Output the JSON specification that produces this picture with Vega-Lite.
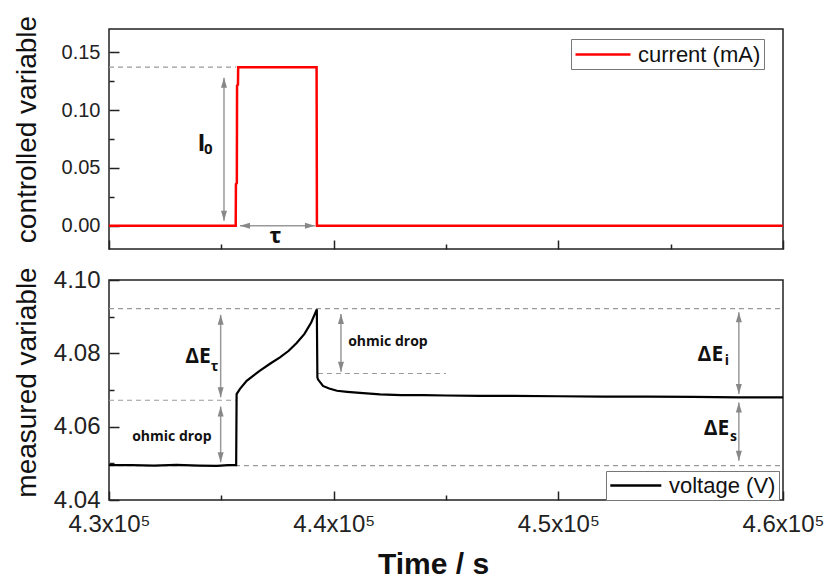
{
  "$schema": "https://vega.github.io/schema/vega-lite/v6.json",
  "background": "white",
  "padding": {"left": 12, "top": 14, "right": 0, "bottom": 0},
  "config": {
    "view": {"stroke": "#222", "strokeWidth": 1.5},
    "axis": {"domain": false, "grid": false, "tickColor": "#222", "tickWidth": 1.5, "labelColor": "#222", "titleColor": "#111", "labelFont": "Liberation Sans", "titleFont": "Liberation Sans", "titleFontWeight": "normal", "labelFlush": false, "labelOverlap": false},
    "legend": {"title": null, "strokeColor": "#777", "fillColor": "white", "padding": 3, "labelFont": "Liberation Sans", "labelFontSize": 22, "labelColor": "#111", "symbolStrokeWidth": 2.5, "labelLimit": 300}
  },
  "datasets": {
    "current": [
      {"t": 430000, "v": 0}, {"t": 435640, "v": 0}, {"t": 435650, "v": 0.036}, {"t": 435690, "v": 0.037},
      {"t": 435700, "v": 0.121}, {"t": 435740, "v": 0.122}, {"t": 435750, "v": 0.137}, {"t": 439240, "v": 0.137},
      {"t": 439255, "v": 0}, {"t": 460000, "v": 0}
    ],
    "voltage": [
      {"t": 430000, "v": 4.0495}, {"t": 431000, "v": 4.0495}, {"t": 432000, "v": 4.0494}, {"t": 433000, "v": 4.0496},
      {"t": 434000, "v": 4.0494}, {"t": 434800, "v": 4.0493}, {"t": 435300, "v": 4.0495}, {"t": 435660, "v": 4.0495},
      {"t": 435680, "v": 4.0689}, {"t": 435830, "v": 4.0703}, {"t": 436128, "v": 4.0725}, {"t": 436720, "v": 4.0753},
      {"t": 437200, "v": 4.0773}, {"t": 437610, "v": 4.0789}, {"t": 438000, "v": 4.0807}, {"t": 438352, "v": 4.0828},
      {"t": 438700, "v": 4.0853}, {"t": 439000, "v": 4.0884}, {"t": 439250, "v": 4.0920}, {"t": 439275, "v": 4.0735},
      {"t": 439300, "v": 4.0729}, {"t": 439523, "v": 4.0711}, {"t": 439800, "v": 4.0704}, {"t": 440146, "v": 4.0698},
      {"t": 440600, "v": 4.0695}, {"t": 441170, "v": 4.0692}, {"t": 442060, "v": 4.0688}, {"t": 443000, "v": 4.0686},
      {"t": 444000, "v": 4.0686}, {"t": 445000, "v": 4.0685}, {"t": 446500, "v": 4.0684}, {"t": 448000, "v": 4.0684},
      {"t": 450000, "v": 4.0683}, {"t": 452000, "v": 4.0682}, {"t": 454000, "v": 4.0682}, {"t": 456000, "v": 4.0681},
      {"t": 458000, "v": 4.0680}, {"t": 460000, "v": 4.0680}
    ],
    "topDash": [{"t1": 430000, "t2": 435650, "v": 0.137}],
    "botDash": [
      {"t1": 430000, "t2": 460000, "v": 4.0922},
      {"t1": 430000, "t2": 435650, "v": 4.0672},
      {"t1": 439300, "t2": 445000, "v": 4.0745},
      {"t1": 430000, "t2": 460000, "v": 4.0494}
    ],
    "topArrV": [{"t": 435118, "v1": 0.0043, "v2": 0.1278}],
    "topArrH": [{"t1": 435830, "t2": 439167, "v": 0}],
    "topHeads": [
      {"t": 435118, "v": 0.1278, "dir": "up"}, {"t": 435118, "v": 0.0043, "dir": "down"},
      {"t": 435830, "v": 0, "dir": "left"}, {"t": 439167, "v": 0, "dir": "right"}
    ],
    "botArrV": [
      {"t": 434970, "v1": 4.0680, "v2": 4.0905},
      {"t": 434970, "v1": 4.0503, "v2": 4.0655},
      {"t": 440324, "v1": 4.0750, "v2": 4.0907},
      {"t": 458035, "v1": 4.0689, "v2": 4.0912},
      {"t": 458035, "v1": 4.0507, "v2": 4.0666}
    ],
    "botHeads": [
      {"t": 434970, "v": 4.0905, "dir": "up"}, {"t": 434970, "v": 4.0680, "dir": "down"},
      {"t": 434970, "v": 4.0655, "dir": "up"}, {"t": 434970, "v": 4.0503, "dir": "down"},
      {"t": 440324, "v": 4.0907, "dir": "up"}, {"t": 440324, "v": 4.0750, "dir": "down"},
      {"t": 458035, "v": 4.0912, "dir": "up"}, {"t": 458035, "v": 4.0689, "dir": "down"},
      {"t": 458035, "v": 4.0666, "dir": "up"}, {"t": 458035, "v": 4.0507, "dir": "down"}
    ],
    "topLabels": [
      {"t": 434116, "v": 0.0711, "text": "I", "size": 24},
      {"t": 434420, "v": 0.0660, "text": "0", "size": 15},
      {"t": 437409, "v": -0.0091, "text": "τ", "size": 22}
    ],
    "botLabels": [
      {"t": 433960, "v": 4.0790, "text": "ΔE", "size": 21},
      {"t": 434700, "v": 4.0763, "text": "τ", "size": 14},
      {"t": 432800, "v": 4.0573, "text": "ohmic drop", "size": 14},
      {"t": 442415, "v": 4.0830, "text": "ohmic drop", "size": 14},
      {"t": 456767, "v": 4.0795, "text": "ΔE", "size": 21},
      {"t": 457500, "v": 4.0779, "text": "i", "size": 14},
      {"t": 457040, "v": 4.0594, "text": "ΔE", "size": 21},
      {"t": 457800, "v": 4.0572, "text": "s", "size": 14}
    ]
  },
  "spacing": 15,
  "resolve": {"scale": {"color": "independent"}, "legend": {"color": "independent"}},
  "vconcat": [
    {
      "width": 674,
      "height": 220,
      "resolve": {"axis": {"x": "independent", "y": "independent"}},
      "layer": [
        {
          "data": {"name": "topDash"},
          "mark": {"type": "rule", "color": "#9a9a9a", "strokeDash": [5, 4], "strokeWidth": 1.2},
          "encoding": {
            "x": {"field": "t1", "type": "quantitative", "scale": {"domain": [430000, 460000], "nice": false, "zero": false},
              "axis": {"orient": "bottom", "values": [435000, 445000, 455000], "labels": false, "tickSize": -5, "title": null}},
            "x2": {"field": "t2"},
            "y": {"field": "v", "type": "quantitative", "scale": {"domain": [-0.02, 0.17], "nice": false, "zero": false},
              "axis": {"orient": "left", "values": [0.025, 0.075, 0.125], "labels": false, "tickSize": -5, "title": null}}
          }
        },
        {
          "data": {"name": "topArrV"},
          "mark": {"type": "rule", "color": "#999", "strokeWidth": 1.5},
          "encoding": {
            "x": {"field": "t", "type": "quantitative", "scale": {"domain": [430000, 460000], "nice": false, "zero": false}, "axis": null},
            "y": {"field": "v1", "type": "quantitative", "scale": {"domain": [-0.02, 0.17], "nice": false, "zero": false}, "axis": null},
            "y2": {"field": "v2"}
          }
        },
        {
          "data": {"name": "topArrH"},
          "mark": {"type": "rule", "color": "#999", "strokeWidth": 1.5},
          "encoding": {
            "x": {"field": "t1", "type": "quantitative", "scale": {"domain": [430000, 460000], "nice": false, "zero": false}, "axis": null},
            "x2": {"field": "t2"},
            "y": {"field": "v", "type": "quantitative", "scale": {"domain": [-0.02, 0.17], "nice": false, "zero": false}, "axis": null}
          }
        },
        {
          "data": {"name": "topHeads"},
          "mark": {"type": "point", "filled": true, "color": "#888", "opacity": 1, "size": 100, "strokeWidth": 0},
          "encoding": {
            "x": {"field": "t", "type": "quantitative", "scale": {"domain": [430000, 460000], "nice": false, "zero": false}, "axis": null},
            "y": {"field": "v", "type": "quantitative", "scale": {"domain": [-0.02, 0.17], "nice": false, "zero": false}, "axis": null},
            "shape": {"field": "dir", "type": "nominal", "legend": null,
              "scale": {"domain": ["up", "down", "left", "right"], "range": ["M0,0L0.6,2L-0.6,2Z", "M0,0L0.6,-2L-0.6,-2Z", "M0,0L2,0.6L2,-0.6Z", "M0,0L-2,0.6L-2,-0.6Z"]}}
          }
        },
        {
          "data": {"name": "current"},
          "mark": {"type": "line", "strokeWidth": 2.5, "interpolate": "linear"},
          "encoding": {
            "x": {"field": "t", "type": "quantitative", "scale": {"domain": [430000, 460000], "nice": false, "zero": false},
              "axis": {"orient": "bottom", "values": [430000, 440000, 450000, 460000], "labels": false, "tickSize": -9, "title": null}},
            "y": {"field": "v", "type": "quantitative", "scale": {"domain": [-0.02, 0.17], "nice": false, "zero": false},
              "axis": {"orient": "left", "values": [0, 0.05, 0.1, 0.15], "format": ".2f", "tickSize": -10, "labelFontSize": 20, "labelPadding": 19, "title": "controlled variable", "titleFontSize": 28, "titlePadding": 20, "titleY": 100}},
            "color": {"datum": "current (mA)", "type": "nominal", "scale": {"domain": ["current (mA)"], "range": ["#ff0000"]},
              "legend": {"orient": "none", "legendX": 462, "legendY": 10, "symbolType": "M-1,0H4", "symbolSize": 484, "labelOffset": 39}}
          }
        },
        {
          "data": {"name": "topLabels"},
          "mark": {"type": "text", "font": "Open Sans", "fontWeight": "bold", "color": "#111", "align": "center", "baseline": "middle"},
          "encoding": {
            "x": {"field": "t", "type": "quantitative", "scale": {"domain": [430000, 460000], "nice": false, "zero": false}, "axis": null},
            "y": {"field": "v", "type": "quantitative", "scale": {"domain": [-0.02, 0.17], "nice": false, "zero": false}, "axis": null},
            "text": {"field": "text", "type": "nominal"},
            "size": {"field": "size", "type": "quantitative", "scale": null}
          }
        }
      ]
    },
    {
      "width": 674,
      "height": 220,
      "resolve": {"axis": {"x": "independent", "y": "independent"}},
      "layer": [
        {
          "data": {"name": "botDash"},
          "mark": {"type": "rule", "color": "#9a9a9a", "strokeDash": [5, 4], "strokeWidth": 1.2},
          "encoding": {
            "x": {"field": "t1", "type": "quantitative", "scale": {"domain": [430000, 460000], "nice": false, "zero": false},
              "axis": {"orient": "bottom", "values": [435000, 445000, 455000], "labels": false, "tickSize": -5, "title": null}},
            "x2": {"field": "t2"},
            "y": {"field": "v", "type": "quantitative", "scale": {"domain": [4.04, 4.10], "nice": false, "zero": false},
              "axis": {"orient": "left", "values": [4.05, 4.07, 4.09], "labels": false, "tickSize": -5, "title": null}}
          }
        },
        {
          "data": {"name": "botArrV"},
          "mark": {"type": "rule", "color": "#999", "strokeWidth": 1.5},
          "encoding": {
            "x": {"field": "t", "type": "quantitative", "scale": {"domain": [430000, 460000], "nice": false, "zero": false}, "axis": null},
            "y": {"field": "v1", "type": "quantitative", "scale": {"domain": [4.04, 4.10], "nice": false, "zero": false}, "axis": null},
            "y2": {"field": "v2"}
          }
        },
        {
          "data": {"name": "botHeads"},
          "mark": {"type": "point", "filled": true, "color": "#888", "opacity": 1, "size": 100, "strokeWidth": 0},
          "encoding": {
            "x": {"field": "t", "type": "quantitative", "scale": {"domain": [430000, 460000], "nice": false, "zero": false}, "axis": null},
            "y": {"field": "v", "type": "quantitative", "scale": {"domain": [4.04, 4.10], "nice": false, "zero": false}, "axis": null},
            "shape": {"field": "dir", "type": "nominal", "legend": null,
              "scale": {"domain": ["up", "down", "left", "right"], "range": ["M0,0L0.6,2L-0.6,2Z", "M0,0L0.6,-2L-0.6,-2Z", "M0,0L2,0.6L2,-0.6Z", "M0,0L-2,0.6L-2,-0.6Z"]}}
          }
        },
        {
          "data": {"name": "voltage"},
          "mark": {"type": "line", "strokeWidth": 2.2, "interpolate": "linear"},
          "encoding": {
            "x": {"field": "t", "type": "quantitative", "scale": {"domain": [430000, 460000], "nice": false, "zero": false},
              "axis": {"orient": "bottom", "values": [430000, 440000, 450000, 460000], "labelExpr": "format(datum.value / 100000, '.1f') + 'x10⁵'", "tickSize": -9, "labelFontSize": 24, "labelPadding": 21, "title": "Time / s", "titleFontSize": 30, "titleFontWeight": "bold", "titlePadding": 13, "titleX": 324}},
            "y": {"field": "v", "type": "quantitative", "scale": {"domain": [4.04, 4.10], "nice": false, "zero": false},
              "axis": {"orient": "left", "values": [4.04, 4.06, 4.08, 4.10], "format": ".2f", "tickSize": -10, "labelFontSize": 24, "labelPadding": 19, "title": "measured variable", "titleFontSize": 28, "titlePadding": 12, "titleY": 102}},
            "color": {"datum": "voltage (V)", "type": "nominal", "scale": {"domain": ["voltage (V)"], "range": ["#000000"]},
              "legend": {"orient": "none", "legendX": 497, "legendY": 191, "symbolType": "M-1,0H4", "symbolSize": 416, "labelOffset": 37}}
          }
        },
        {
          "data": {"name": "botLabels"},
          "mark": {"type": "text", "font": "Open Sans", "fontWeight": "bold", "color": "#111", "align": "center", "baseline": "middle"},
          "encoding": {
            "x": {"field": "t", "type": "quantitative", "scale": {"domain": [430000, 460000], "nice": false, "zero": false}, "axis": null},
            "y": {"field": "v", "type": "quantitative", "scale": {"domain": [4.04, 4.10], "nice": false, "zero": false}, "axis": null},
            "text": {"field": "text", "type": "nominal"},
            "size": {"field": "size", "type": "quantitative", "scale": null}
          }
        }
      ]
    }
  ]
}
